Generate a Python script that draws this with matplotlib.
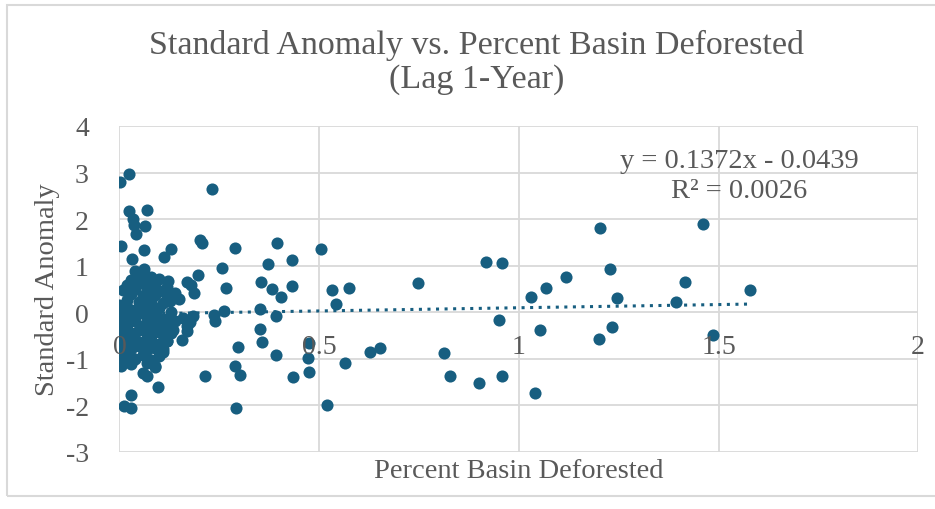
import matplotlib.pyplot as plt
from matplotlib.patches import Rectangle
import numpy as np

plt.rcParams['font.family'] = ['Liberation Serif', 'DejaVu Serif']

# Data (percent basin deforested, standard anomaly)
pct_deforested = [
    # right side
    0.505, 0.531, 0.574, 0.542, 0.747, 0.919, 0.958, 0.951, 1.031, 1.069, 1.052,
    0.475, 0.473, 0.474, 0.565, 0.627, 0.653, 0.519, 0.813, 0.828, 0.900, 0.957,
    1.040, 0.435, 1.204, 1.462, 1.229, 1.118, 1.417, 1.245, 1.393, 1.580, 1.233,
    1.200, 1.486,
    # middle
    0.232, 0.289, 0.395, 0.257, 0.373, 0.432, 0.266, 0.355, 0.382, 0.433, 0.404,
    0.262, 0.237, 0.239, 0.351, 0.393, 0.351, 0.356, 0.298, 0.391, 0.214, 0.288,
    0.301, 0.292, 0.201, 0.206, 0.196, 0.170, 0.178, 0.186, 0.122, 0.130, 0.111,
    # left, high
    0.002, 0.025, 0.025, 0.068, 0.034, 0.036, 0.064, 0.041, 0.005, 0.061, 0.031,
    0.061,
    # left, low
    0.096, 0.028, 0.011, 0.028, 0.089, 0.060, 0.068, 0.005, 0.101, 0.110, 0.118,
    0.156, 0.135, 0.122, 0.170, 0.176, 0.185,
    # dense cluster near zero
    0.04, 0.06, 0.05, 0.08, 0.03, 0.07, 0.10, 0.02, 0.05, 0.09, 0.12, 0.01, 0.04,
    0.07, 0.11, 0.14, 0.03, 0.06, 0.09, 0.12, 0.02, 0.05, 0.08, 0.11, 0.15, 0.093,
    0.122, 0.126,
    0.00, 0.02, 0.04, 0.06, 0.08, 0.10, 0.13, 0.01, 0.03, 0.05, 0.07, 0.09, 0.11,
    0.14, 0.00, 0.02, 0.04, 0.06, 0.08, 0.10, 0.12, 0.16, 0.17,
    0.01, 0.03, 0.05, 0.07, 0.09, 0.11, 0.13, 0.00, 0.02, 0.04, 0.06, 0.08, 0.10,
    0.12, 0.01, 0.03, 0.05, 0.07, 0.09, 0.11, 0.00, 0.02, 0.04, 0.06, 0.08, 0.10,
    0.01, 0.03, 0.07, 0.09,
]
std_anomaly = [
    # right side
    1.35, 0.47, 0.52, 0.17, 0.63, 1.07, 1.05, -0.17, 0.32, 0.51, -0.38,
    -0.67, -0.98, -1.28, -1.10, -0.85, -0.77, -1.99, -0.88, -1.38, -1.52, -1.38,
    -1.73, -1.40, 1.80, 1.89, 0.92, 0.75, 0.65, 0.30, 0.22, 0.47, -0.31,
    -0.57, -0.50,
    # middle
    2.64, 1.37, 1.49, 0.95, 1.03, 1.12, 0.52, 0.65, 0.49, 0.57, 0.32,
    0.03, -0.06, -0.19, 0.06, -0.09, -0.37, -0.64, -0.75, -0.92, -1.37, -1.16,
    -1.35, -2.07, 1.55, 1.48, 0.80, 0.65, 0.58, 0.42, 0.66, 1.35, 1.18,
    # left, high
    2.79, 2.97, 2.17, 2.19, 2.00, 1.88, 1.85, 1.68, 1.41, 1.33, 1.15,
    0.92,
    # left, low
    -1.61, -1.78, -2.01, -2.07, -1.19, -1.30, -1.38, -1.15, -0.87, -0.80, -0.62,
    -0.61, -0.38, -0.22, -0.40, -0.22, -0.08,
    # dense cluster near zero
    0.88, 0.80, 0.78, 0.76, 0.70, 0.70, 0.72, 0.58, 0.62, 0.60, 0.55, 0.48, 0.50,
    0.47, 0.45, 0.42, 0.38, 0.35, 0.36, 0.30, 0.25, 0.22, 0.24, 0.20, 0.28, 0.46,
    0.35, 0.24,
    0.15, 0.10, 0.05, 0.12, 0.02, 0.08, 0.00, -0.05, -0.10, -0.02, -0.12, -0.08, -0.15,
    -0.20, -0.22, -0.28, -0.20, -0.30, -0.25, -0.32, -0.28, -0.12, -0.30,
    -0.40, -0.45, -0.38, -0.48, -0.42, -0.50, -0.45, -0.55, -0.62, -0.58, -0.65, -0.60, -0.68,
    -0.62, -0.75, -0.80, -0.72, -0.82, -0.78, -0.85, -0.90, -0.95, -1.00, -0.92, -1.02, -0.95,
    -1.08, -1.12, -1.10, -1.15,
]

# Linear trendline as reported on the chart
slope = 0.1372
intercept = -0.0439
r_squared = 0.0026

x_ticks = [0, 0.5, 1, 1.5, 2]
x_tick_labels = ['0', '0.5', '1', '1.5', '2']
y_ticks = [-3, -2, -1, 0, 1, 2, 3, 4]

text_color = '#595959'
grid_color = '#d9d9d9'
dot_color = '#175e80'

fig = plt.figure(figsize=(9.35, 5.10), dpi=100)
ax = fig.add_axes([0.1278, 0.1124, 0.8542, 0.6386])

ax.scatter(pct_deforested, std_anomaly, s=76, color=dot_color, zorder=3, linewidths=0)

# trendline over the data range
x_fit = np.array([min(pct_deforested), max(pct_deforested)])
ax.plot(x_fit, slope * x_fit + intercept, color=dot_color, lw=2.2,
        linestyle=(0, (1, 1.8)), zorder=2)

ax.set_xlim(0, 2)
ax.set_ylim(-3, 4)
ax.set_yticks(y_ticks)
ax.set_yticklabels([str(v) for v in y_ticks])
ax.set_xticks(x_ticks)
ax.set_xticklabels([])
ax.grid(True, color=grid_color, lw=1.3, zorder=0)
for s in ax.spines.values():
    s.set_visible(False)
ax.tick_params(axis='both', length=0, labelsize=20, labelcolor=text_color, pad=22)

# x tick labels sit under the y=0 line (Excel axis crossing)
for xv, lab in zip(x_ticks, x_tick_labels):
    ax.annotate(lab, xy=(xv, 0), xytext=(0, -25), textcoords='offset points',
                ha='center', va='center', fontsize=20, color=text_color)

ax.set_ylabel('Standard Anomaly', fontsize=20.5, color=text_color)
ax.yaxis.set_label_coords(-0.0745, 0.5)
fig.text(0.5548, 1 - 471.7 / 510, 'Percent Basin Deforested', fontsize=20.5,
         color=text_color, ha='center', va='center')

fig.text(0.510, 1 - 45 / 510, 'Standard Anomaly vs. Percent Basin Deforested',
         fontsize=24.5, color=text_color, ha='center', va='center')
fig.text(0.510, 1 - 80 / 510, '(Lag 1-Year)',
         fontsize=24.5, color=text_color, ha='center', va='center')

fig.text(739 / 935, 1 - 161.7 / 510, f'y = {slope}x - {abs(intercept)}',
         fontsize=20.5, color=text_color, ha='center', va='center')
fig.text(739 / 935, 1 - 191.7 / 510, f'R² = {r_squared}',
         fontsize=20.5, color=text_color, ha='center', va='center')

# chart area border
fig.patches.append(Rectangle((7 / 935, 1 - 497 / 510), 1.0, (497 - 6) / 510,
                             transform=fig.transFigure, fill=False,
                             edgecolor='#d9d9d9', lw=1.5))

plt.savefig('out.png', dpi=100)
plt.close()
